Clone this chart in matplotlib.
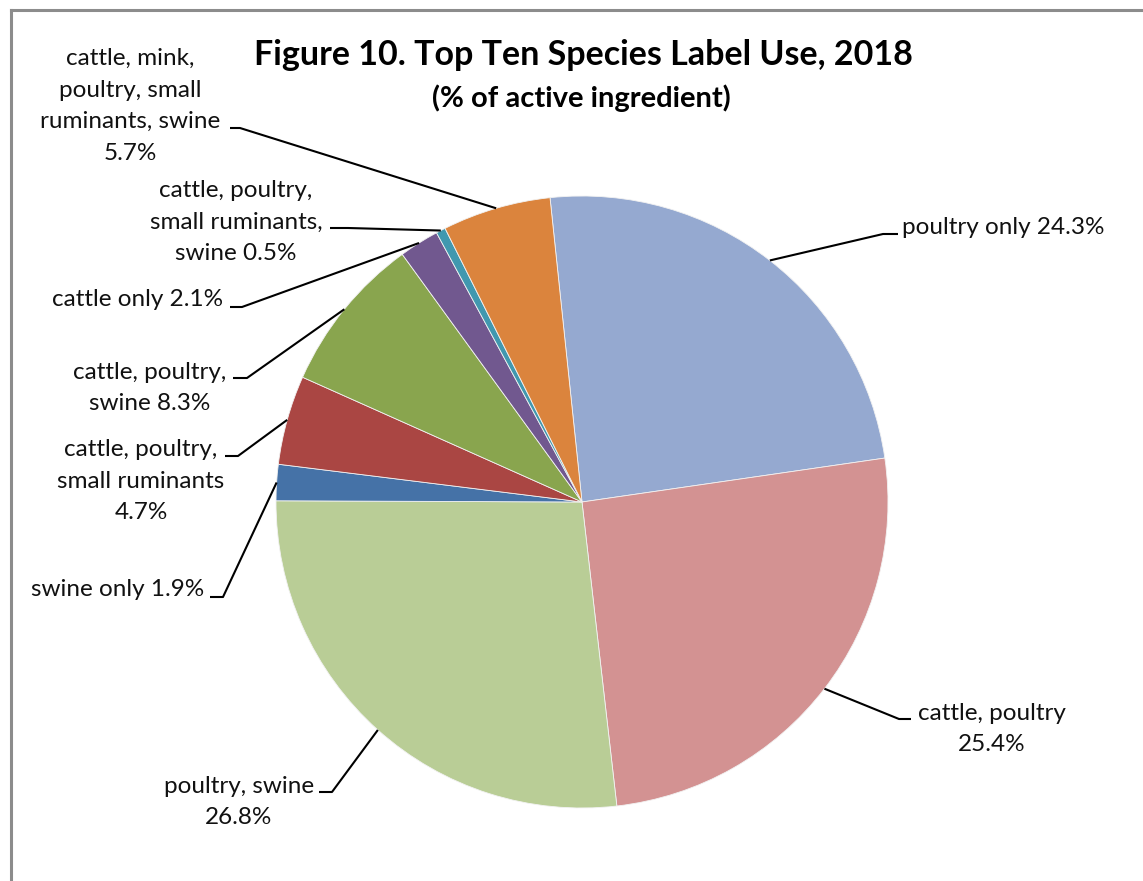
import matplotlib
matplotlib.use("Agg")
import matplotlib.pyplot as plt
import numpy as np

# ---------------- data ----------------
categories = [
    "poultry only",
    "cattle, poultry",
    "poultry, swine",
    "swine only",
    "cattle, poultry, small ruminants",
    "cattle, poultry, swine",
    "cattle only",
    "cattle, poultry, small ruminants, swine",
    "cattle, mink, poultry, small ruminants, swine",
]
values = [24.3, 25.4, 26.8, 1.9, 4.7, 8.3, 2.1, 0.5, 5.7]
label_texts = [
    "poultry only 24.3%",
    "cattle, poultry\n25.4%",
    "poultry, swine\n26.8%",
    "swine only 1.9%",
    "cattle, poultry,\nsmall ruminants\n4.7%",
    "cattle, poultry,\nswine 8.3%",
    "cattle only 2.1%",
    "cattle, poultry,\nsmall ruminants,\nswine 0.5%",
    "cattle, mink,\npoultry, small\nruminants, swine\n5.7%",
]
colors = ["#95A9D0", "#D39292", "#B9CD96", "#4572A7", "#AA4643",
          "#89A54E", "#71588F", "#4198AF", "#DB843D"]

title = "Figure 10. Top Ten Species Label Use, 2018"
subtitle = "(% of active ingredient)"

# ---------------- layout (pixel coords, y from top) ----------------
W, H = 1143, 881
CX, CY, R = 582, 502, 306

# text anchor (x, y, ha) and leader elbow/end points
text_pos = [
    (902, 228, "left"),
    (992, 729, "center"),
    (239, 802, "center"),
    (118, 590, "center"),
    (141, 481, "center"),
    (150, 388, "center"),
    (138, 300, "center"),
    (236, 222, "center"),
    (130, 106, "center"),
]
leader_pts = [
    [(883, 234), (898, 234)],
    [(899, 719), (911, 719)],
    [(332, 792), (319, 792)],
    [(223, 597), (210, 597)],
    [(238, 456), (225, 456)],
    [(247, 378), (233, 378)],
    [(242, 307), (230, 307)],
    [(348, 228), (330, 228)],
    [(240, 128), (230, 128)],
]

FONT = "Lato"
plt.rcParams["font.family"] = [FONT, "DejaVu Sans"]

fig = plt.figure(figsize=(W / 100, H / 100), dpi=100)
fig.patch.set_facecolor("white")
ax = fig.add_axes([0, 0, 1, 1])


def Y(y):
    return H - y


wedges, _ = ax.pie(
    values,
    colors=colors,
    startangle=96,
    counterclock=False,
    radius=R,
    center=(CX, Y(CY)),
    wedgeprops=dict(edgecolor="#F2F2F2", linewidth=0.6),
)
ax.set_xlim(0, W)
ax.set_ylim(0, H)
ax.set_aspect("equal", adjustable="box")
ax.axis("off")

# labels + leader lines
for w, txt, (tx, ty, ha), pts in zip(wedges, label_texts, text_pos, leader_pts):
    th = np.deg2rad((w.theta1 + w.theta2) / 2)
    px = CX + R * np.cos(th)
    py = Y(CY) + R * np.sin(th)
    xs = [px] + [p[0] for p in pts]
    ys = [py] + [Y(p[1]) for p in pts]
    ax.plot(xs, ys, color="black", lw=1.5, solid_capstyle="butt", zorder=5)
    ax.text(tx, Y(ty), txt, ha=ha, va="center", multialignment="center",
            fontsize=17.5, color="#111111", linespacing=1.62, zorder=6)

# title
ax.text(583, Y(55), title, ha="center", va="center", fontsize=24.5,
        fontweight="bold", color="black")
ax.text(581, Y(98), subtitle, ha="center", va="center", fontsize=21,
        fontweight="bold", color="black")

# chart-area frame (left and top edges visible)
ax.plot([11, 11], [Y(10), Y(H + 5)], color="#8C8C8C", lw=2.2, clip_on=False)
ax.plot([11, W + 5], [Y(10), Y(10)], color="#8C8C8C", lw=2.2, clip_on=False)

fig.savefig("out.png", dpi=100, facecolor="white")
